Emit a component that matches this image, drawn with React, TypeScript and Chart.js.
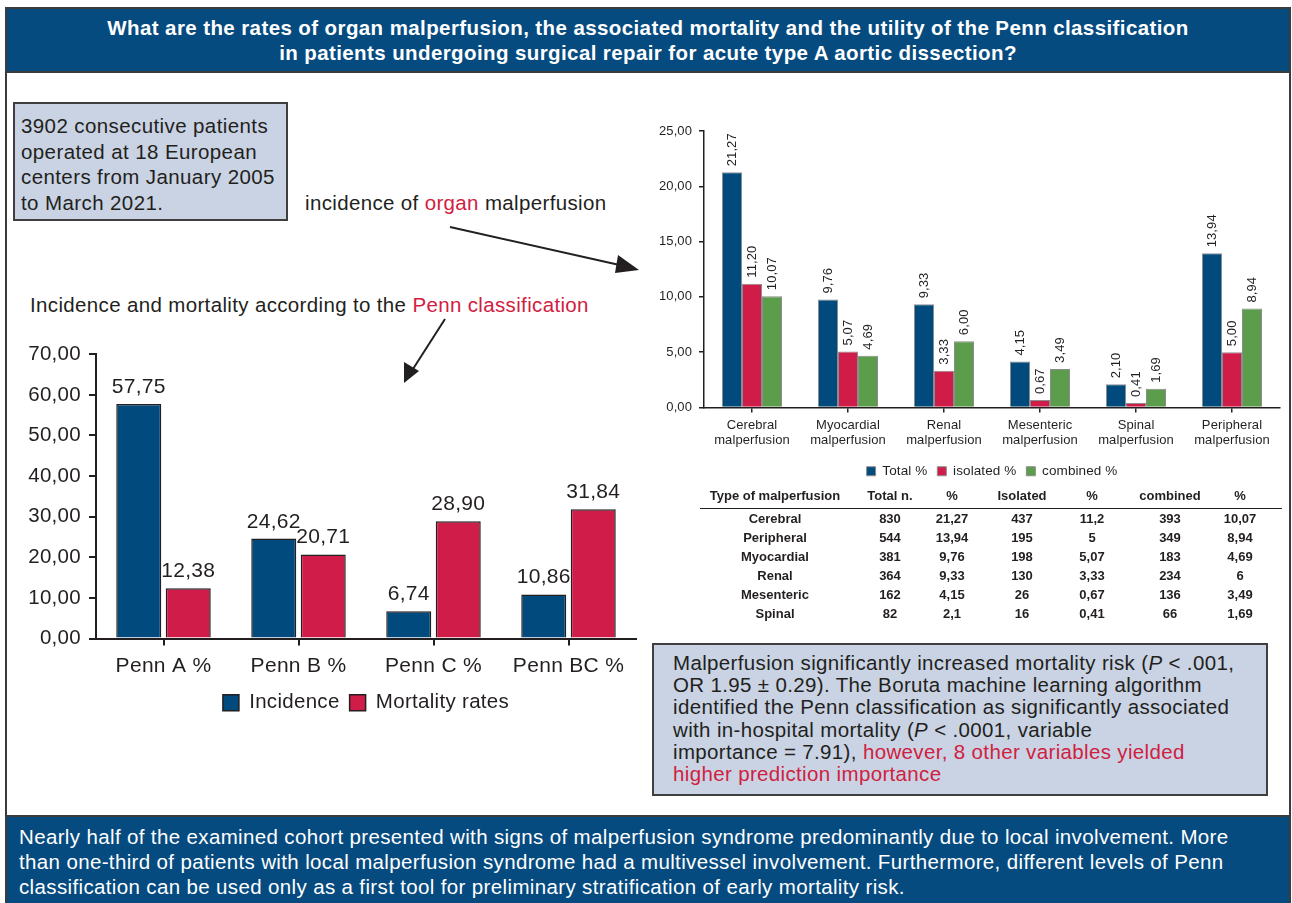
import React, { useEffect, useRef } from 'react';
import { Chart, registerables } from 'chart.js';

Chart.register(...registerables);

const FONT = "'Liberation Sans', Arial, Helvetica, sans-serif";
const BLUE = '#004a7d';
const RED = '#cf1c48';
const GREEN = '#5c9d4c';
const INK = '#231f20';
const PANEL = '#c9d3e3';
const BAND = '#064b7f';
const ACCENT = '#d1203f';

// Penn classification: incidence and mortality (%)
const pennCategories = ['Penn A %', 'Penn B %', 'Penn C %', 'Penn BC %'];
const pennIncidence = [57.75, 24.62, 6.74, 10.86];
const pennMortality = [12.38, 20.71, 28.9, 31.84];

// Organ malperfusion incidence (%)
const organCategories = [
  ['Cerebral', 'malperfusion'],
  ['Myocardial', 'malperfusion'],
  ['Renal', 'malperfusion'],
  ['Mesenteric', 'malperfusion'],
  ['Spinal', 'malperfusion'],
  ['Peripheral', 'malperfusion'],
];
const organTotal = [21.27, 9.76, 9.33, 4.15, 2.1, 13.94];
const organIsolated = [11.2, 5.07, 3.33, 0.67, 0.41, 5.0];
const organCombined = [10.07, 4.69, 6.0, 3.49, 1.69, 8.94];

// Summary table
const tableHeaders = ['Type of malperfusion', 'Total n.', '%', 'Isolated', '%', 'combined', '%'];
const malperfusionTypes = ['Cerebral', 'Peripheral', 'Myocardial', 'Renal', 'Mesenteric', 'Spinal'];
const totalN = ['830', '544', '381', '364', '162', '82'];
const totalPct = ['21,27', '13,94', '9,76', '9,33', '4,15', '2,1'];
const isolatedN = ['437', '195', '198', '130', '26', '16'];
const isolatedPct = ['11,2', '5', '5,07', '3,33', '0,67', '0,41'];
const combinedN = ['393', '349', '183', '234', '136', '66'];
const combinedPct = ['10,07', '8,94', '4,69', '6', '3,49', '1,69'];

const fmtComma = (v: number) => Number(v).toFixed(2).replace('.', ',');

// Slightly looser letter spacing for all canvas text
const canvasTracking = {
  id: 'canvasTracking',
  beforeLayout(chart: any, _args: any, opts: any) {
    chart.ctx.letterSpacing = opts.spacing || '0px';
  },
  beforeDraw(chart: any, _args: any, opts: any) {
    chart.ctx.letterSpacing = opts.spacing || '0px';
  },
};

// Writes each bar's value above it (horizontal or rotated)
const barValueLabels = {
  id: 'barValueLabels',
  afterDatasetsDraw(chart: any, _args: any, opts: any) {
    const { ctx } = chart;
    ctx.save();
    ctx.font = `${opts.size}px ${FONT}`;
    ctx.fillStyle = opts.color;
    chart.data.datasets.forEach((ds: any, i: number) => {
      const meta = chart.getDatasetMeta(i);
      meta.data.forEach((bar: any, j: number) => {
        const text = fmtComma(ds.data[j]);
        if (opts.vertical) {
          ctx.save();
          ctx.translate(bar.x, bar.y - opts.offset);
          ctx.rotate(-Math.PI / 2);
          ctx.textAlign = 'left';
          ctx.textBaseline = 'middle';
          ctx.fillText(text, 0, 0);
          ctx.restore();
        } else {
          ctx.textAlign = 'center';
          ctx.textBaseline = 'alphabetic';
          ctx.fillText(text, bar.x, bar.y - opts.offset);
        }
      });
    });
    ctx.restore();
  },
};

function BarCanvas({ makeConfig, left, top, width, height }: any) {
  const ref = useRef<HTMLCanvasElement>(null);
  useEffect(() => {
    const chart = new Chart(ref.current as HTMLCanvasElement, makeConfig());
    return () => chart.destroy();
  }, []);
  return (
    <canvas
      ref={ref}
      width={width}
      height={height}
      style={{ position: 'absolute', left, top, width, height }}
    />
  );
}

const pennConfig = () => ({
  type: 'bar',
  data: {
    labels: pennCategories,
    datasets: [
      { label: 'Incidence', data: pennIncidence, backgroundColor: BLUE, borderColor: INK, borderWidth: 1.5 },
      { label: 'Mortality rates', data: pennMortality, backgroundColor: RED, borderColor: INK, borderWidth: 1.5 },
    ],
  },
  options: {
    animation: false,
    responsive: false,
    layout: { padding: { top: 20, right: 14, left: 0, bottom: 2 } },
    datasets: { bar: { categoryPercentage: 0.733, barPercentage: 0.91 } },
    scales: {
      x: {
        grid: { offset: false, drawOnChartArea: false, drawTicks: true, tickLength: 7, color: INK, lineWidth: 2 },
        border: { color: INK, width: 2 },
        ticks: { font: { size: 21, family: FONT }, color: INK, padding: 8 },
        afterFit: (s: any) => { s.height = 44; },
      },
      y: {
        min: 0,
        max: 70,
        grid: { drawOnChartArea: false, drawTicks: true, tickLength: 7, color: INK, lineWidth: 2 },
        border: { color: INK, width: 2 },
        ticks: { stepSize: 10, callback: (v: number) => fmtComma(v), font: { size: 20.5, family: FONT }, color: INK, padding: 8 },
        afterFit: (s: any) => { s.width = 76; },
      },
    },
    plugins: {
      legend: {
        position: 'bottom',
        fullSize: false,
        labels: { boxWidth: 16, boxHeight: 16, padding: 10, color: INK, font: { size: 20.5, family: FONT } },
      },
      tooltip: { enabled: false },
      canvasTracking: { spacing: '0.3px' },
      barValueLabels: { size: 21, color: INK, offset: 11, vertical: false },
    },
  },
  plugins: [canvasTracking, barValueLabels],
});

const organConfig = () => ({
  type: 'bar',
  data: {
    labels: organCategories,
    datasets: [
      { label: 'Total %', data: organTotal, backgroundColor: BLUE, borderColor: '#8c8c8c', borderWidth: 1 },
      { label: 'isolated %', data: organIsolated, backgroundColor: RED, borderColor: '#8c8c8c', borderWidth: 1 },
      { label: 'combined %', data: organCombined, backgroundColor: GREEN, borderColor: '#8c8c8c', borderWidth: 1 },
    ],
  },
  options: {
    animation: false,
    responsive: false,
    layout: { padding: { top: 19, right: 10, left: 0, bottom: 2 } },
    datasets: { bar: { categoryPercentage: 0.625, barPercentage: 1.0 } },
    scales: {
      x: {
        grid: { offset: false, drawOnChartArea: false, drawTicks: true, tickLength: 5, color: INK, lineWidth: 1.5 },
        border: { color: INK, width: 1.5 },
        ticks: { font: { size: 13, family: FONT }, color: INK, padding: 5 },
        afterFit: (s: any) => { s.height = 47; },
      },
      y: {
        min: 0,
        max: 25,
        grid: { drawOnChartArea: false, drawTicks: true, tickLength: 5, color: INK, lineWidth: 1.5 },
        border: { color: INK, width: 1.5 },
        ticks: { stepSize: 5, callback: (v: number) => fmtComma(v), font: { size: 13, family: FONT }, color: INK, padding: 7 },
        afterFit: (s: any) => { s.width = 59; },
      },
    },
    plugins: {
      legend: {
        position: 'bottom',
        fullSize: false,
        labels: { boxWidth: 9, boxHeight: 9, padding: 10, color: INK, font: { size: 13.5, family: FONT } },
      },
      tooltip: { enabled: false },
      canvasTracking: { spacing: '0.1px' },
      barValueLabels: { size: 13, color: INK, offset: 6, vertical: true },
    },
  },
  plugins: [canvasTracking, barValueLabels],
});

const tableColumnCenters = [775, 890, 952, 1022, 1092, 1170, 1240];
const tableRowCenters = [519, 538, 557, 576, 595, 614];

function SummaryTable() {
  const columns = [malperfusionTypes, totalN, totalPct, isolatedN, isolatedPct, combinedN, combinedPct];
  const cell = (x: number, y: number, text: string, key: string) => (
    <div
      key={key}
      style={{
        position: 'absolute',
        left: x - 80,
        top: y - 8,
        width: 160,
        height: 16,
        lineHeight: '16px',
        textAlign: 'center',
        fontWeight: 'bold',
        fontSize: 13,
        color: INK,
        whiteSpace: 'nowrap',
      }}
    >
      {text}
    </div>
  );
  return (
    <>
      {tableHeaders.map((h, c) => cell(tableColumnCenters[c], 496, h, `h${c}`))}
      <div style={{ position: 'absolute', left: 700, top: 508, width: 582, height: 0, borderTop: `1.5px solid ${INK}` }} />
      {columns.map((col, c) => col.map((v, r) => cell(tableColumnCenters[c], tableRowCenters[r], v, `c${c}r${r}`)))}
    </>
  );
}

function Arrows() {
  return (
    <svg
      width={1292}
      height={903}
      style={{ position: 'absolute', left: 0, top: 0, pointerEvents: 'none' }}
    >
      <line x1={450} y1={227} x2={624} y2={266} stroke={INK} strokeWidth={2} />
      <polygon points="639,270 618,255 615,273" fill={INK} />
      <line x1={445} y1={319} x2={413} y2={369} stroke={INK} strokeWidth={2} />
      <polygon points="404,383 404,362 419,371" fill={INK} />
    </svg>
  );
}

export default function App() {
  return (
    <div
      style={{
        position: 'absolute',
        left: 0,
        top: 0,
        width: 1292,
        height: 903,
        overflow: 'hidden',
        background: '#ffffff',
        fontFamily: FONT,
        color: INK,
      }}
    >
      {/* outer frame */}
      <div
        style={{
          position: 'absolute',
          left: 5,
          top: 7,
          width: 1286,
          height: 910,
          border: '2px solid #3b3b3b',
          boxSizing: 'border-box',
        }}
      />
      {/* title band */}
      <div
        style={{
          position: 'absolute',
          left: 5,
          top: 7,
          width: 1286,
          height: 66,
          background: BAND,
          border: '2px solid #3b3b3b',
          boxSizing: 'border-box',
          color: '#ffffff',
          fontWeight: 'bold',
          fontSize: 20.5,
          letterSpacing: '0.4px',
          lineHeight: '25px',
          textAlign: 'center',
          paddingTop: 6,
          whiteSpace: 'nowrap',
        }}
      >
        What are the rates of organ malperfusion, the associated mortality and the utility of the Penn classification
        <br />
        in patients undergoing surgical repair for acute type A aortic dissection?
      </div>

      {/* cohort box */}
      <div
        style={{
          position: 'absolute',
          left: 13,
          top: 102,
          width: 275,
          height: 119,
          background: PANEL,
          border: '2px solid #3f3f3f',
          boxSizing: 'border-box',
          fontSize: 20.5,
          letterSpacing: '0.4px',
          lineHeight: '25.5px',
          padding: '9px 0 0 6px',
          whiteSpace: 'nowrap',
        }}
      >
        3902 consecutive patients
        <br />
        operated at 18 European
        <br />
        centers from January 2005
        <br />
        to March 2021.
      </div>

      <div style={{ position: 'absolute', left: 305, top: 191, fontSize: 20.5, letterSpacing: '0.35px', lineHeight: '24px', whiteSpace: 'nowrap' }}>
        incidence of <span style={{ color: ACCENT }}>organ</span> malperfusion
      </div>

      <div style={{ position: 'absolute', left: 30, top: 293, fontSize: 20.5, letterSpacing: '0.35px', lineHeight: '24px', whiteSpace: 'nowrap' }}>
        Incidence and mortality according to the <span style={{ color: ACCENT }}>Penn classification</span>
      </div>

      <Arrows />

      <BarCanvas makeConfig={pennConfig} left={20} top={334} width={630} height={391} />
      <BarCanvas makeConfig={organConfig} left={645} top={112} width={645} height={378} />

      <SummaryTable />

      {/* findings box */}
      <div
        style={{
          position: 'absolute',
          left: 652,
          top: 643,
          width: 616,
          height: 153,
          background: PANEL,
          border: '2px solid #3f3f3f',
          boxSizing: 'border-box',
          fontSize: 20.5,
          letterSpacing: '0.35px',
          lineHeight: '22.2px',
          padding: '7px 0 0 19px',
          whiteSpace: 'nowrap',
        }}
      >
        Malperfusion significantly increased mortality risk (<i>P</i> &lt; .001,
        <br />
        OR 1.95 ± 0.29). The Boruta machine learning algorithm
        <br />
        identified the Penn classification as significantly associated
        <br />
        with in-hospital mortality (<i>P</i> &lt; .0001, variable
        <br />
        importance = 7.91), <span style={{ color: ACCENT }}>however, 8 other variables yielded</span>
        <br />
        <span style={{ color: ACCENT }}>higher prediction importance</span>
      </div>

      {/* conclusion band */}
      <div
        style={{
          position: 'absolute',
          left: 5,
          top: 815,
          width: 1286,
          height: 95,
          background: BAND,
          border: '2px solid #3b3b3b',
          boxSizing: 'border-box',
          color: '#ffffff',
          fontSize: 20.5,
          letterSpacing: '0.36px',
          lineHeight: '25px',
          padding: '7px 0 0 12px',
          whiteSpace: 'nowrap',
        }}
      >
        Nearly half of the examined cohort presented with signs of malperfusion syndrome predominantly due to local involvement. More
        <br />
        than one-third of patients with local malperfusion syndrome had a multivessel involvement. Furthermore, different levels of Penn
        <br />
        classification can be used only as a first tool for preliminary stratification of early mortality risk.
      </div>
    </div>
  );
}
